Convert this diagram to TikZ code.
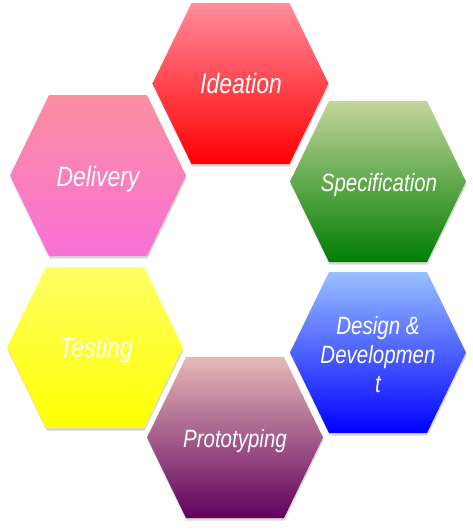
\documentclass[tikz,border=0pt]{standalone}
\usepackage{fontspec}
\newfontfamily\hexfont[FakeStretch=0.82]{Liberation Sans}
\usetikzlibrary{shadows}

\definecolor{ideatop}{RGB}{255,140,157}
\definecolor{ideabot}{RGB}{255,0,0}
\definecolor{spectop}{RGB}{195,214,155}
\definecolor{specbot}{RGB}{0,125,0}
\definecolor{desitop}{RGB}{153,192,255}
\definecolor{desibot}{RGB}{0,0,255}
\definecolor{prottop}{RGB}{230,185,184}
\definecolor{protbot}{RGB}{98,0,92}
\definecolor{testtop}{RGB}{255,255,100}
\definecolor{testbot}{RGB}{255,255,0}
\definecolor{delitop}{RGB}{250,143,160}
\definecolor{delibot}{RGB}{250,112,215}

\tikzset{
  hexfill/.style={drop shadow={shadow xshift=0.6pt, shadow yshift=-2.5pt, opacity=0.22, fill=black!70}},
  hexlabel/.style={text=white, font=\hexfont\itshape\fontsize{28}{33}\selectfont, text height=20pt, text depth=0pt},
  hexsmall/.style={hexlabel, font=\hexfont\itshape\fontsize{25}{29}\selectfont, text height=18pt},
  hexlines/.style={text=white, font=\hexfont\itshape\fontsize{25}{29}\selectfont, align=center}
}

\begin{document}
\begin{tikzpicture}[x=1pt,y=-1pt]
  % half width, half top edge, half height of a hexagon (pixels)
  \def\hw{88}
  \def\he{49}
  \def\hh{80.5}

  \useasboundingbox (0,0) rectangle (473,530);

  % The six shaded hexagons, clockwise from the top
  \shade[hexfill, top color=ideatop, bottom color=ideabot, shift={(240.5,83.5)}]
    (-\hw,0) -- (-\he,-\hh) -- (\he,-\hh) -- (\hw,0) -- (\he,\hh) -- (-\he,\hh) -- cycle; % Ideation
  \shade[hexfill, top color=spectop, bottom color=specbot, shift={(378,181.5)}]
    (-\hw,0) -- (-\he,-\hh) -- (\he,-\hh) -- (\hw,0) -- (\he,\hh) -- (-\he,\hh) -- cycle; % Specification
  \shade[hexfill, top color=desitop, bottom color=desibot, shift={(378,352.5)}]
    (-\hw,0) -- (-\he,-\hh) -- (\he,-\hh) -- (\hw,0) -- (\he,\hh) -- (-\he,\hh) -- cycle; % Design
  \shade[hexfill, top color=prottop, bottom color=protbot, shift={(235,437.5)}]
    (-\hw,0) -- (-\he,-\hh) -- (\he,-\hh) -- (\hw,0) -- (\he,\hh) -- (-\he,\hh) -- cycle; % Prototyping
  \shade[hexfill, top color=testtop, bottom color=testbot, shift={(95,347.5)}]
    (-\hw,0) -- (-\he,-\hh) -- (\he,-\hh) -- (\hw,0) -- (\he,\hh) -- (-\he,\hh) -- cycle; % Testing
  \shade[hexfill, top color=delitop, bottom color=delibot, shift={(98,175.5)}]
    (-\hw,0) -- (-\he,-\hh) -- (\he,-\hh) -- (\hw,0) -- (\he,\hh) -- (-\he,\hh) -- cycle; % Delivery

  % Labels
  \node[hexlabel] (ideation) at (241,83.5) {Ideation};
  \node[hexsmall] (specification) at (379,182) {Specification};
  \node[hexlines] (design) at (378,355) {Design \&\\Developmen\\t};
  \node[hexsmall] (prototyping) at (235,438) {Prototyping};
  \node[hexlabel] (testing) at (96,347) {Testing};
  \node[hexlabel] (delivery) at (98,176) {Delivery};
\end{tikzpicture}
\end{document}
